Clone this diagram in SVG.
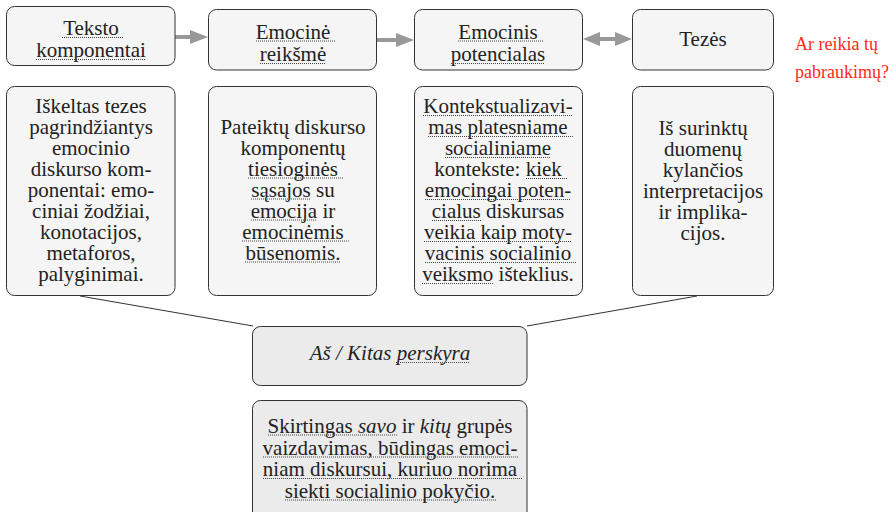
<svg xmlns="http://www.w3.org/2000/svg" width="896" height="512" viewBox="0 0 896 512">
<style>
.box{fill:#f5f5f5;stroke:#333;stroke-width:1}
.box2{fill:#ebebeb;stroke:#333;stroke-width:1}
.t{font-family:'Liberation Serif', serif;font-size:21px;fill:#222;text-anchor:middle}
.red{font-family:'Liberation Serif', serif;fill:#ff2a1a;font-size:18px}
.dot{stroke:#444;stroke-width:1;stroke-dasharray:1 1;fill:none}
.conn{stroke:#333;stroke-width:1;fill:none}
.arr{stroke:#999;stroke-width:4;fill:none}
.head{fill:#999}
</style>
<g id="connectors">
<line class="arr" x1="175" y1="37" x2="192" y2="37"/>
<polygon class="head" points="208,37 190,30 190,44"/>
<line class="arr" x1="377" y1="40" x2="398" y2="40"/>
<polygon class="head" points="414,40 396,33 396,47"/>
<line class="arr" x1="598" y1="39" x2="616" y2="39"/>
<polygon class="head" points="583,39 600,32 600,46"/>
<polygon class="head" points="632,39 615,32 615,46"/>
<line class="conn" x1="80" y1="296" x2="253" y2="326"/>
<line class="conn" x1="697" y1="296" x2="527" y2="326"/>
</g>
<g id="n1"><rect class="box" x="6.5" y="6.5" width="168.5" height="59" rx="8"/>
<text class="t" x="91" y="35">Teksto</text>
<text class="t" x="91" y="57">komponentai</text>
<path class="dot" d="M62 37.5H124M36 59.5H146"/></g>
<g id="n2"><rect class="box" x="208.5" y="9.5" width="168" height="60.5" rx="8"/>
<text class="t" x="293" y="38.5">Emocinė</text>
<text class="t" x="293" y="61">reikšmė</text>
<path class="dot" d="M256 41H336M260 63.5H326"/></g>
<g id="n3"><rect class="box" x="414.5" y="9.5" width="168" height="60.5" rx="8"/>
<text class="t" x="498" y="38.5">Emocinis</text>
<text class="t" x="498" y="61">potencialas</text>
<path class="dot" d="M458 41H543M451 63.5H545"/></g>
<g id="n4"><rect class="box" x="632.5" y="9.5" width="141" height="60.5" rx="8"/>
<text class="t" x="703" y="46">Tezės</text></g>
<g id="note"><text class="red" x="795" y="50">Ar reikia tų</text>
<text class="red" x="795" y="78">pabraukimų?</text></g>
<g id="n5"><rect class="box" x="6.5" y="86.5" width="168.5" height="209" rx="8"/>
<text class="t" x="91" y="113">Iškeltas tezes</text>
<text class="t" x="91" y="134">pagrindžiantys</text>
<text class="t" x="91" y="155">emocinio</text>
<text class="t" x="91" y="176">diskurso kom-</text>
<text class="t" x="91" y="197">ponentai: emo-</text>
<text class="t" x="91" y="218">ciniai žodžiai,</text>
<text class="t" x="91" y="239">konotacijos,</text>
<text class="t" x="91" y="260">metaforos,</text>
<text class="t" x="91" y="281">palyginimai.</text></g>
<g id="n6"><rect class="box" x="208.5" y="86.5" width="168" height="209" rx="8"/>
<text class="t" x="293" y="133.5">Pateiktų diskurso</text>
<text class="t" x="293" y="154.5">komponentų</text>
<text class="t" x="293" y="175.5">tiesioginės</text>
<text class="t" x="293" y="196.5">sąsajos su</text>
<text class="t" x="293" y="217.5">emocija ir</text>
<text class="t" x="293" y="238.5">emocinėmis</text>
<text class="t" x="293" y="259.5">būsenomis.</text>
<path class="dot" d="M248 178H343M251 199H311M251 220H317M242 241H349M245 262H341"/></g>
<g id="n7"><rect class="box" x="414.5" y="86.5" width="168" height="209" rx="8"/>
<text class="t" x="498" y="113">Kontekstualizavi-</text>
<text class="t" x="498" y="134">mas platesniame</text>
<text class="t" x="498" y="155">socialiniame</text>
<text class="t" x="498" y="176">kontekste: kiek</text>
<text class="t" x="498" y="197">emocingai poten-</text>
<text class="t" x="498" y="218">cialus diskursas</text>
<text class="t" x="498" y="239">veikia kaip moty-</text>
<text class="t" x="498" y="260">vacinis socialinio</text>
<text class="t" x="498" y="281">veiksmo išteklius.</text>
<path class="dot" d="M423 115.5H573M428 136.5H573M445 157.5H551M526 178.5H567M425 199.5H571M432 220.5H481M424 241.5H572M425 262.5H576M422 283.5H493"/></g>
<g id="n8"><rect class="box" x="632.5" y="86.5" width="141" height="209" rx="8"/>
<text class="t" x="703" y="135">Iš surinktų</text>
<text class="t" x="703" y="156">duomenų</text>
<text class="t" x="703" y="177">kylančios</text>
<text class="t" x="703" y="198">interpretacijos</text>
<text class="t" x="703" y="219">ir implika-</text>
<text class="t" x="703" y="240">cijos.</text></g>
<g id="n9"><rect class="box2" x="252.5" y="326.5" width="274.5" height="59" rx="8"/>
<text class="t" x="390" y="360" font-style="italic">Aš / Kitas perskyra</text>
<path class="dot" d="M396 362.5H470"/></g>
<g id="n10"><rect class="box2" x="252.5" y="400.5" width="274.5" height="130" rx="8"/>
<text class="t" x="390" y="432.5">Skirtingas <tspan font-style="italic">savo</tspan> ir <tspan font-style="italic">kitų</tspan> grupės</text>
<text class="t" x="390" y="454.5">vaizdavimas, būdingas emoci-</text>
<text class="t" x="390" y="476">niam diskursui, kuriuo norima</text>
<text class="t" x="390" y="497.5">siekti socialinio pokyčio.</text>
<path class="dot" d="M268 435H397M263 457H518M263 478.5H522M285 500H496"/></g>
</svg>
